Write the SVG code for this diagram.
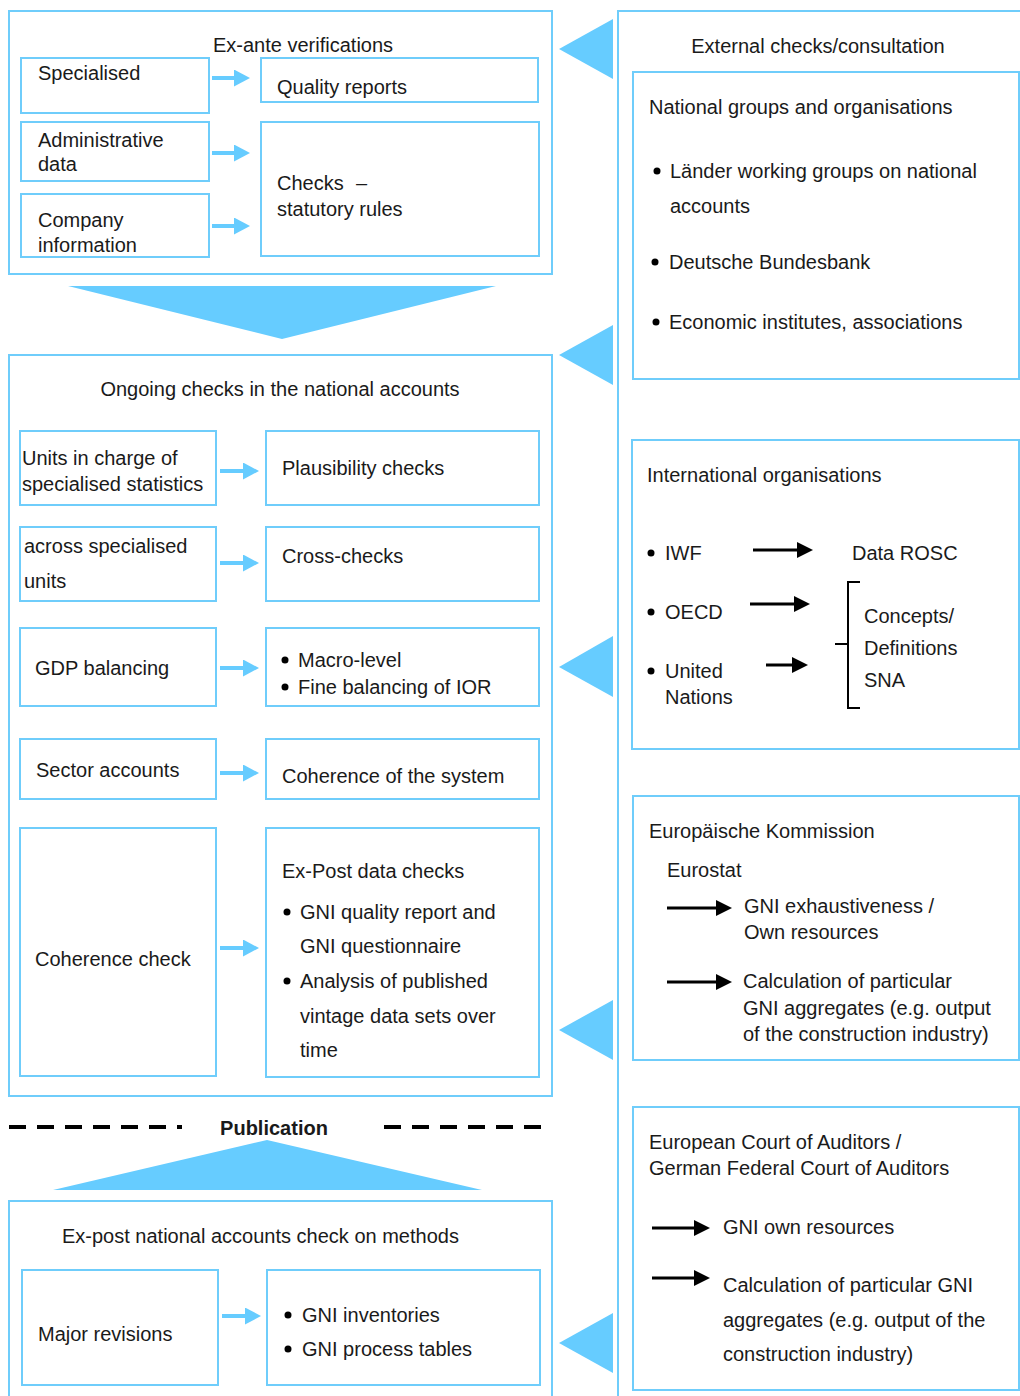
<svg xmlns="http://www.w3.org/2000/svg" width="1020" height="1396" viewBox="0 0 1020 1396">
<defs>
<style>
.box{fill:none;stroke:#6fcdfb;stroke-width:2}
.tri{fill:#66ccff}
.t{font-family:"Liberation Sans",Arial,sans-serif;font-size:20px;fill:#1a1a1a}
.b{font-weight:bold}
.bl{stroke:#66ccff;stroke-width:4;fill:none;marker-end:url(#bh)}
.bk{stroke:#000;stroke-width:3;fill:none;marker-end:url(#kh)}
.dot{fill:#000}
</style>
<marker id="bh" markerUnits="userSpaceOnUse" markerWidth="16" markerHeight="17" refX="0" refY="8.5" orient="auto"><path d="M0,0 L16,8.5 L0,17 z" fill="#66ccff"/></marker>
<marker id="kh" markerUnits="userSpaceOnUse" markerWidth="16" markerHeight="16" refX="0" refY="8" orient="auto"><path d="M0,0 L16,8 L0,16 z" fill="#000"/></marker>
</defs>
<rect width="1020" height="1396" fill="#fff"/>

<!-- Ex-ante section -->
<g id="exante">
<rect class="box" x="9" y="11" width="543" height="263"/>
<text class="t" x="213" y="52">Ex-ante verifications</text>
</g>
<g id="specialised"><rect class="box" x="21" y="58" width="188" height="55"/><text class="t" x="38" y="80">Specialised</text></g>
<g id="quality-reports"><rect class="box" x="261" y="58" width="277" height="44"/><text class="t" x="277" y="94">Quality reports</text></g>
<g id="admin-data"><rect class="box" x="21" y="122" width="188" height="59"/><text class="t" x="38" y="147">Administrative</text><text class="t" x="38" y="171">data</text></g>
<g id="checks-statutory"><rect class="box" x="261" y="122" width="278" height="134"/><text class="t" x="277" y="190">Checks</text><text class="t" x="356" y="190">–</text><text class="t" x="277" y="216">statutory rules</text></g>
<g id="company-info"><rect class="box" x="21" y="194" width="188" height="63"/><text class="t" x="38" y="227">Company</text><text class="t" x="38" y="252">information</text></g>

<g id="down-arrow"><polygon class="tri" points="68,286 496,286 282,339"/></g>

<!-- Ongoing section -->
<g id="ongoing">
<rect class="box" x="9" y="355" width="543" height="741"/>
<text class="t" x="280" y="396" text-anchor="middle">Ongoing checks in the national accounts</text>
</g>
<g id="units-in-charge"><rect class="box" x="20" y="431" width="196" height="74"/><text class="t" x="22" y="465">Units in charge of</text><text class="t" x="22" y="491">specialised statistics</text></g>
<g id="plausibility"><rect class="box" x="266" y="431" width="273" height="74"/><text class="t" x="282" y="475">Plausibility checks</text></g>
<g id="across-units"><rect class="box" x="20" y="527" width="196" height="74"/><text class="t" x="24" y="553">across specialised</text><text class="t" x="24" y="588">units</text></g>
<g id="cross-checks"><rect class="box" x="266" y="527" width="273" height="74"/><text class="t" x="282" y="563">Cross-checks</text></g>
<g id="gdp-balancing"><rect class="box" x="20" y="628" width="196" height="78"/><text class="t" x="35" y="675">GDP balancing</text></g>
<g id="macro-level"><rect class="box" x="266" y="628" width="273" height="78"/>
<circle class="dot" cx="285" cy="660" r="3.5"/><text class="t" x="298" y="667">Macro-level</text>
<circle class="dot" cx="285" cy="687" r="3.5"/><text class="t" x="298" y="694">Fine balancing of IOR</text></g>
<g id="sector-accounts"><rect class="box" x="20" y="739" width="196" height="60"/><text class="t" x="36" y="777">Sector accounts</text></g>
<g id="coherence-system"><rect class="box" x="266" y="739" width="273" height="60"/><text class="t" x="282" y="783">Coherence of the system</text></g>
<g id="coherence-check"><rect class="box" x="20" y="828" width="196" height="248"/><text class="t" x="35" y="966">Coherence check</text></g>
<g id="ex-post-data"><rect class="box" x="266" y="828" width="273" height="249"/>
<text class="t" x="282" y="878">Ex-Post data checks</text>
<circle class="dot" cx="287" cy="912" r="3.5"/><text class="t" x="300" y="919">GNI quality report and</text>
<text class="t" x="300" y="953">GNI questionnaire</text>
<circle class="dot" cx="287" cy="981" r="3.5"/><text class="t" x="300" y="988">Analysis of published</text>
<text class="t" x="300" y="1023">vintage data sets over</text>
<text class="t" x="300" y="1057">time</text></g>

<!-- Publication -->
<g id="publication">
<line x1="9" y1="1127" x2="182" y2="1127" stroke="#000" stroke-width="4" stroke-dasharray="17 11"/>
<line x1="384" y1="1127" x2="541" y2="1127" stroke="#000" stroke-width="4" stroke-dasharray="17 11"/>
<text class="t b" x="274" y="1135" text-anchor="middle">Publication</text>
</g>
<g id="up-arrow"><polygon class="tri" points="53,1190 482,1190 267,1140"/></g>

<!-- Ex-post section -->
<g id="expost">
<rect class="box" x="9" y="1201" width="543" height="210"/>
<text class="t" x="62" y="1243">Ex-post national accounts check on methods</text>
</g>
<g id="major-revisions"><rect class="box" x="22" y="1270" width="196" height="115"/><text class="t" x="38" y="1341">Major revisions</text></g>
<g id="gni-inventories"><rect class="box" x="267" y="1270" width="273" height="115"/>
<circle class="dot" cx="288" cy="1315" r="3.5"/><text class="t" x="302" y="1322">GNI inventories</text>
<circle class="dot" cx="288" cy="1349" r="3.5"/><text class="t" x="302" y="1356">GNI process tables</text></g>

<!-- Right column -->
<g id="external">
<rect class="box" x="618" y="11" width="430" height="1420"/>
<text class="t" x="818" y="53" text-anchor="middle">External checks/consultation</text>
</g>
<g id="national-groups"><rect class="box" x="633" y="72" width="386" height="307"/>
<text class="t" x="649" y="114">National groups and organisations</text>
<circle class="dot" cx="657" cy="171" r="3.5"/><text class="t" x="670" y="178">Länder working groups on national</text>
<text class="t" x="670" y="213">accounts</text>
<circle class="dot" cx="655" cy="262" r="3.5"/><text class="t" x="669" y="269">Deutsche Bundesbank</text>
<circle class="dot" cx="656" cy="322" r="3.5"/><text class="t" x="669" y="329">Economic institutes, associations</text></g>
<g id="international"><rect class="box" x="632" y="440" width="387" height="309"/>
<text class="t" x="647" y="482">International organisations</text>
<circle class="dot" cx="651" cy="553" r="3.5"/><text class="t" x="665" y="560">IWF</text>
<circle class="dot" cx="651" cy="612" r="3.5"/><text class="t" x="665" y="619">OECD</text>
<circle class="dot" cx="651" cy="671" r="3.5"/><text class="t" x="665" y="678">United</text>
<text class="t" x="665" y="704">Nations</text>
<text class="t" x="852" y="560">Data ROSC</text>
<path d="M860,582 H848 V708 H860 M848,644 H835" fill="none" stroke="#000" stroke-width="2"/>
<text class="t" x="864" y="623">Concepts/</text>
<text class="t" x="864" y="655">Definitions</text>
<text class="t" x="864" y="687">SNA</text></g>
<g id="european-commission"><rect class="box" x="633" y="796" width="386" height="264"/>
<text class="t" x="649" y="838">Europäische Kommission</text>
<text class="t" x="667" y="877">Eurostat</text>
<text class="t" x="744" y="913">GNI exhaustiveness /</text>
<text class="t" x="744" y="939">Own resources</text>
<text class="t" x="743" y="988">Calculation of particular</text>
<text class="t" x="743" y="1015">GNI aggregates (e.g. output</text>
<text class="t" x="743" y="1041">of the construction industry)</text></g>
<g id="court-of-auditors"><rect class="box" x="633" y="1107" width="386" height="283"/>
<text class="t" x="649" y="1149">European Court of Auditors /</text>
<text class="t" x="649" y="1175">German Federal Court of Auditors</text>
<text class="t" x="723" y="1234">GNI own resources</text>
<text class="t" x="723" y="1292">Calculation of particular GNI</text>
<text class="t" x="723" y="1327">aggregates (e.g. output of the</text>
<text class="t" x="723" y="1361">construction industry)</text></g>

<!-- Connectors -->
<g id="connectors">
<line class="bl" x1="212" y1="78" x2="234" y2="78"/>
<line class="bl" x1="212" y1="153" x2="234" y2="153"/>
<line class="bl" x1="212" y1="226" x2="234" y2="226"/>
<line class="bl" x1="220" y1="471" x2="243" y2="471"/>
<line class="bl" x1="220" y1="563" x2="243" y2="563"/>
<line class="bl" x1="220" y1="668" x2="243" y2="668"/>
<line class="bl" x1="220" y1="773" x2="243" y2="773"/>
<line class="bl" x1="220" y1="948" x2="243" y2="948"/>
<line class="bl" x1="222" y1="1316" x2="245" y2="1316"/>
<line class="bk" x1="753" y1="550" x2="797" y2="550"/>
<line class="bk" x1="750" y1="604" x2="794" y2="604"/>
<line class="bk" x1="766" y1="665" x2="792" y2="665"/>
<line class="bk" x1="667" y1="908" x2="716" y2="908"/>
<line class="bk" x1="667" y1="982" x2="716" y2="982"/>
<line class="bk" x1="652" y1="1228" x2="694" y2="1228"/>
<line class="bk" x1="652" y1="1278" x2="694" y2="1278"/>
<polygon class="tri" points="613,19 613,79 559,49"/>
<polygon class="tri" points="613,325 613,385 559,355"/>
<polygon class="tri" points="613,636 613,697 559,667"/>
<polygon class="tri" points="613,1000 613,1060 559,1030"/>
<polygon class="tri" points="613,1313 613,1373 559,1343"/>
</g>
</svg>
